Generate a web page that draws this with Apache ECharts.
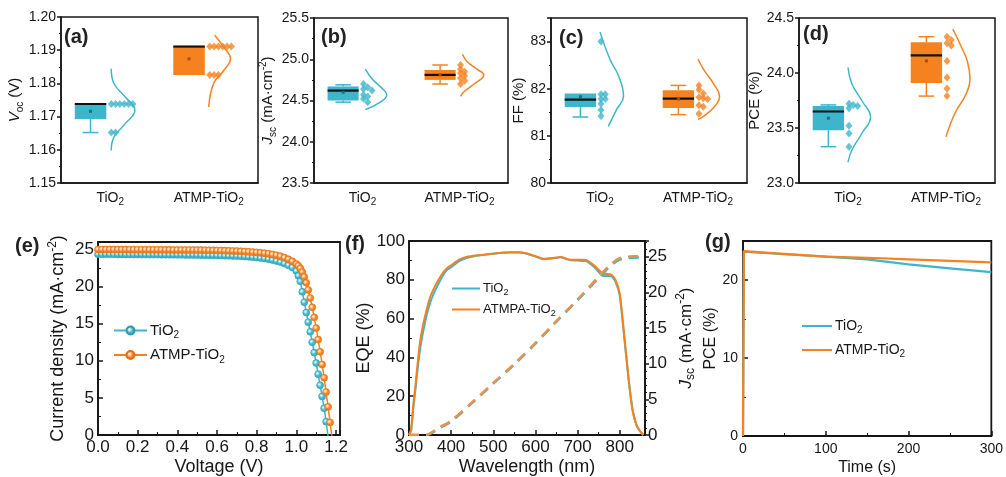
<!DOCTYPE html>
<html>
<head>
<meta charset="utf-8">
<script src="https://cdn.jsdelivr.net/npm/echarts@6/dist/echarts.min.js"></script>
<style>
html, body { margin: 0; padding: 0; background: #fff; }
#main { width: 1006px; height: 477px; }
</style>
</head>
<body>
<div id="main"></div>
<script>
var groups = ['TiO2', 'ATMP-TiO2'];

// box stats per group: [min, Q1, median, Q3, max, mean]
var vocBox = [[1.1652, 1.1693, 1.1738, 1.1738, 1.1738, 1.1716], [1.1825, 1.1825, 1.1911, 1.1911, 1.1911, 1.1874]];
var jscBox = [[24.48, 24.50, 24.62, 24.67, 24.69, 24.60], [24.70, 24.75, 24.81, 24.87, 24.93, 24.81]];
var ffBox = [[81.40, 81.61, 81.77, 81.90, 81.90, 81.83], [81.45, 81.59, 81.79, 81.97, 82.07, 81.78]];
var pceBox = [[23.33, 23.48, 23.65, 23.70, 23.71, 23.59], [23.79, 23.91, 24.16, 24.28, 24.33, 24.11]];

// single devices
var vocPts = [[1.1738, 1.1738, 1.1738, 1.1738, 1.1738, 1.1738, 1.1652, 1.1652],
              [1.1911, 1.1911, 1.1911, 1.1911, 1.1911, 1.1911, 1.1825, 1.1825, 1.1825]];
var jscPts = [[24.70, 24.66, 24.64, 24.62, 24.57, 24.55, 24.52, 24.48],
              [24.93, 24.88, 24.85, 24.83, 24.80, 24.77, 24.74, 24.70]];
var ffPts = [[83.00, 81.88, 81.88, 81.78, 81.78, 81.68, 81.55, 81.42],
             [82.07, 81.98, 81.90, 81.82, 81.80, 81.78, 81.65, 81.62, 81.47]];
var pcePts = [[23.72, 23.71, 23.70, 23.68, 23.52, 23.45, 23.33],
              [24.33, 24.30, 24.27, 24.25, 24.11, 23.96, 23.86, 23.79]];

// distribution curves: [offset from category centre, value]
var vocCurve = [[[0.01, 1.1844], [0.035, 1.1801], [0.15, 1.1760], [0.25, 1.1719], [0.15, 1.1678], [0.035, 1.1637], [0.01, 1.1598]],
                [[0.06, 1.1945], [0.15, 1.1910], [0.22, 1.1874], [0.15, 1.1838], [0.05, 1.1800], [0.0, 1.1729]]];
var jscCurve = [[[0.03, 24.88], [0.1, 24.76], [0.2, 24.65], [0.25, 24.57], [0.17, 24.47], [0.03, 24.39]],
                [[0.03, 25.06], [0.08, 24.97], [0.18, 24.88], [0.25, 24.81], [0.15, 24.70], [0.04, 24.60], [0.01, 24.55]]];
var ffCurve = [[[0.0, 83.2], [0.1, 82.63], [0.19, 82.27], [0.24, 81.84], [0.17, 81.56], [0.085, 81.2]],
               [[0.0, 82.63], [0.06, 82.4], [0.16, 82.1], [0.22, 81.84], [0.16, 81.6], [0.06, 81.42], [0.0, 81.35]]];
var pceCurve = [[[0.0, 24.05], [0.04, 23.9], [0.14, 23.75], [0.23, 23.6], [0.14, 23.45], [0.04, 23.3], [0.0, 23.19]],
                [[0.07, 24.4], [0.15, 24.25], [0.22, 24.1], [0.245, 23.94], [0.2, 23.8], [0.1, 23.65], [0.03, 23.5], [0.0, 23.42]]];

// (e) J-V
var jvVolt = [0.00, 0.02, 0.04, 0.06, 0.08, 0.10, 0.12, 0.14, 0.16, 0.18, 0.20, 0.22, 0.24, 0.26, 0.28, 0.30, 0.32, 0.34, 0.36, 0.38,
              0.40, 0.42, 0.44, 0.46, 0.48, 0.50, 0.52, 0.54, 0.56, 0.58, 0.60, 0.62, 0.64, 0.66, 0.68, 0.70, 0.72, 0.74, 0.76, 0.78,
              0.80, 0.82, 0.84, 0.86, 0.88, 0.90, 0.92, 0.94, 0.96, 0.98, 1.00, 1.01, 1.02, 1.03, 1.04, 1.05, 1.06, 1.07, 1.08, 1.09,
              1.10, 1.11, 1.12, 1.13, 1.14, 1.15, 1.16, 1.17, 1.18];
var jvTiO2 = [24.35, 24.35, 24.34, 24.34, 24.34, 24.33, 24.33, 24.33, 24.32, 24.32, 24.32, 24.31, 24.31, 24.30, 24.30, 24.30, 24.29, 24.29, 24.28, 24.28,
              24.27, 24.27, 24.26, 24.25, 24.25, 24.24, 24.23, 24.22, 24.21, 24.20, 24.19, 24.17, 24.16, 24.14, 24.12, 24.10, 24.07, 24.04, 24.00, 23.96,
              23.91, 23.85, 23.78, 23.69, 23.58, 23.45, 23.29, 23.10, 22.86, 22.57, 22.10, 21.45, 20.70, 19.30, 17.90, 16.50, 15.20, 13.90, 12.50, 11.10,
              9.70, 8.20, 6.70, 5.20, 3.60, 1.80, -0.20];
var jvATMP = [25.00, 25.00, 24.99, 24.99, 24.99, 24.98, 24.98, 24.98, 24.97, 24.97, 24.97, 24.96, 24.96, 24.96, 24.95, 24.95, 24.95, 24.94, 24.94, 24.93,
              24.93, 24.93, 24.92, 24.92, 24.92, 24.91, 24.91, 24.90, 24.89, 24.88, 24.87, 24.86, 24.84, 24.82, 24.80, 24.78, 24.75, 24.72, 24.68, 24.65,
              24.60, 24.55, 24.49, 24.42, 24.33, 24.22, 24.08, 23.90, 23.68, 23.40, 23.05, 22.80, 22.45, 21.95, 21.30, 20.50, 19.55, 18.45, 17.20, 15.85,
              14.40, 12.85, 11.20, 9.50, 7.70, 5.80, 3.80, 1.70, -0.40];

// (f) EQE and integrated Jsc
var eqeWl = [300, 305, 310, 315, 320, 325, 330, 340, 350, 360, 370, 380, 390, 400, 420, 440, 460, 480, 500, 520, 540, 560, 580,
             600, 620, 640, 660, 680, 700, 720, 740, 760, 780, 790, 800, 810, 820, 830, 840, 850, 856];
var eqeTiO2 = [0, 2, 13, 23, 33, 42, 49, 60, 68, 73.5, 78, 82, 85, 86.5, 89.8, 91.5, 92.4, 92.9, 93.4, 93.9, 94.1, 94.1, 93.4,
               92.0, 90.6, 91.0, 91.6, 90.2, 89.9, 89.6, 86.5, 82.0, 81.8, 79, 72, 52, 31, 14, 5, 1.5, 0];
var eqeATMP = [0, 3, 15, 25, 36, 46, 53, 63, 71, 76, 80, 83.5, 86, 87.5, 90.5, 92, 92.6, 93, 93.5, 94, 94.2, 94.2, 93.6,
               92.2, 90.8, 91.2, 91.8, 90.5, 90.3, 90.2, 87.3, 83.3, 82.6, 80, 73, 53, 31, 13, 5, 1.5, 0];
var intWl = [300, 340, 370, 400, 450, 500, 550, 600, 650, 700, 750, 780, 800, 820, 850];
var intTiO2 = [0, 0, 0.9, 1.9, 4.5, 7.2, 9.9, 12.8, 15.9, 18.9, 22.0, 23.8, 24.6, 24.8, 24.9];
var intATMP = [0, 0, 1.0, 2.0, 4.6, 7.3, 10.0, 12.9, 16.0, 19.0, 22.2, 24.0, 24.8, 25.0, 25.1];

// (g) stabilised PCE
var timeS = [0, 1, 50, 100, 150, 200, 250, 300];
var mppTiO2 = [0, 23.65, 23.3, 23.0, 22.65, 22.0, 21.5, 21.0];
var mppATMP = [0, 23.7, 23.35, 23.0, 22.85, 22.65, 22.45, 22.25];

var FONT = 'Liberation Sans';
var INK = '#161616';
var BLUE = '#3DB5CA', ORANGE = '#F5821F';
var colors = [BLUE, ORANGE];
var meanColors = ['#1C6F80', '#A64F06'];

function rich(size) {
  var lh = Math.round(size * 1.3), ss = Math.round(size * 0.68);
  return {
    n: { fontSize: size, fontFamily: FONT, color: INK, lineHeight: lh },
    i: { fontSize: size, fontFamily: FONT, color: INK, fontStyle: 'italic', lineHeight: lh },
    s: { fontSize: ss, fontFamily: FONT, color: INK, verticalAlign: 'bottom', lineHeight: ss },
    p: { fontSize: ss, fontFamily: FONT, color: INK, verticalAlign: 'top', lineHeight: ss }
  };
}
function subName(name) {
  var b = name.split('|')[0];
  return '{n|' + b.slice(0, -1) + '}{s|2}';
}
function zip(a, b) {
  var out = [];
  for (var k = 0; k < b.length; k++) out.push([a[k], b[k]]);
  return out;
}
// simple beeswarm: points that would overlap vertically get the next slot to the right
function swarm(vals, center, thr) {
  var placed = [], out = [];
  vals.forEach(function (v) {
    var k = 0;
    while (placed.some(function (p) { return p.k === k && Math.abs(p.v - v) < thr; })) k++;
    placed.push({ v: v, k: k });
    out.push([center + 0.01 + k * 0.044, v]);
  });
  return out;
}
function boxRender(color, meanColor) {
  return function (params, api) {
    var c = api.value(0);
    var lo = api.value(1), q1 = api.value(2), med = api.value(3), q3 = api.value(4), hi = api.value(5), mean = api.value(6);
    var xl = c - 0.36, xr = c - 0.04, xm = c - 0.2, cl = c - 0.28, cr = c - 0.12;
    function seg(a, b, col, w) {
      var A = api.coord(a), B = api.coord(b);
      return { type: 'line', shape: { x1: A[0], y1: A[1], x2: B[0], y2: B[1] }, style: { stroke: col, lineWidth: w } };
    }
    var ch = [];
    if (hi > q3) { ch.push(seg([xm, q3], [xm, hi], color, 1.5)); ch.push(seg([cl, hi], [cr, hi], color, 1.5)); }
    if (lo < q1) { ch.push(seg([xm, q1], [xm, lo], color, 1.5)); ch.push(seg([cl, lo], [cr, lo], color, 1.5)); }
    var p1 = api.coord([xl, q3]), p2 = api.coord([xr, q1]);
    ch.push({ type: 'rect', shape: { x: p1[0], y: p1[1], width: p2[0] - p1[0], height: Math.max(p2[1] - p1[1], 1) }, style: { fill: color } });
    ch.push(seg([xl, med], [xr, med], '#111', 2.2));
    var m = api.coord([xm, mean]);
    ch.push({ type: 'rect', shape: { x: m[0] - 1.5, y: m[1] - 1.5, width: 3, height: 3 }, style: { fill: meanColor } });
    return { type: 'group', children: ch };
  };
}

var topPanels = [
  { left: 61, top: 17, width: 197, height: 166, min: 1.15, max: 1.20, interval: 0.01, dec: 2, full: true,
    name: '{i|V}{s|oc}{n| (V)}', gap: 36, box: vocBox, pts: vocPts, curve: vocCurve },
  { left: 314, top: 18, width: 194, height: 165, min: 23.5, max: 25.5, interval: 0.5, dec: 1, full: true,
    name: '{i|J}{s|sc}{n| (mA·cm}{p|-2}{n|)}', gap: 32, box: jscBox, pts: jscPts, curve: jscCurve },
  { left: 551, top: 18, width: 196, height: 165, min: 80, max: 83.5, interval: 1, dec: 0, full: false,
    name: '{n|FF (%)}', gap: 21, box: ffBox, pts: ffPts, curve: ffCurve },
  { left: 799, top: 18, width: 196, height: 165, min: 23.0, max: 24.5, interval: 0.5, dec: 1, full: true,
    name: '{n|PCE (%)}', gap: 29, box: pceBox, pts: pcePts, curve: pceCurve }
];

var grids = [], xAxes = [], yAxes = [], series = [];
var axisLine = { lineStyle: { color: INK, width: 1.5 } };

topPanels.forEach(function (p, i) {
  grids.push({ left: p.left, top: p.top, width: p.width, height: p.height, show: true, borderColor: INK, borderWidth: 1.5 });
  xAxes.push({ gridIndex: i, type: 'category', data: groups, boundaryGap: true,
    axisLine: axisLine, axisTick: { alignWithLabel: true, length: 4, lineStyle: { color: INK, width: 1.5 } },
    axisLabel: { interval: 0, formatter: subName, rich: rich(14), margin: 6 } });
  xAxes.push({ gridIndex: i, type: 'value', min: 0, max: 2, show: false });
  (function (dec) {
    yAxes.push({ gridIndex: i, type: 'value', min: p.min, max: p.max, interval: p.interval,
      splitLine: { show: false }, axisLine: { show: true, lineStyle: { color: INK, width: 1.5 } },
      axisTick: { show: true, length: 4, lineStyle: { color: INK, width: 1.5 } },
      minorTick: { show: true, splitNumber: 2, length: 2, lineStyle: { color: INK } },
      axisLabel: { fontFamily: FONT, fontSize: 14, color: INK, margin: 5, showMaxLabel: p.full,
        formatter: function (v) { return v.toFixed(dec); } },
      name: p.name, nameLocation: 'middle', nameGap: p.gap, nameRotate: 90,
      nameTextStyle: { rich: rich(15) } });
  })(p.dec);
  var thr = 4 * (p.max - p.min) / p.height;
  for (var g = 0; g < 2; g++) {
    var ctr = g + 0.5;
    series.push({ type: 'line', xAxisIndex: 2 * i + 1, yAxisIndex: i, smooth: 0.45, symbol: 'none',
      lineStyle: { color: colors[g], width: 1.5 }, z: 2, silent: true,
      data: p.curve[g].map(function (d) { return [ctr + d[0], d[1]]; }) });
    series.push({ type: 'custom', xAxisIndex: 2 * i + 1, yAxisIndex: i, z: 3, silent: true,
      renderItem: boxRender(colors[g], meanColors[g]),
      data: [[ctr].concat(p.box[g])] });
    series.push({ type: 'scatter', xAxisIndex: 2 * i + 1, yAxisIndex: i, symbol: 'diamond', symbolSize: [7, 8], z: 4, silent: true,
      itemStyle: { color: colors[g] }, data: swarm(p.pts[g], ctr, thr) });
  }
});

function inTick() { return { show: true, inside: true, length: 5, lineStyle: { color: INK, width: 1.5 } }; }
function inMinor() { return { show: true, splitNumber: 2, length: 3, lineStyle: { color: INK, width: 1 } }; }

// (e)
grids.push({ left: 98, top: 242, width: 242, height: 194, show: true, borderColor: INK, borderWidth: 1.8 });
xAxes.push({ gridIndex: 4, type: 'value', min: 0, max: 1.22, interval: 0.2, splitLine: { show: false },
  axisLine: axisLine, axisTick: inTick(), minorTick: inMinor(),
  axisLabel: { fontFamily: FONT, fontSize: 17, color: INK, margin: 4, showMaxLabel: false, formatter: function (v) { return v.toFixed(1); } },
  name: 'Voltage (V)', nameLocation: 'middle', nameGap: 23, nameTextStyle: { fontFamily: FONT, fontSize: 18, color: INK } });
yAxes.push({ gridIndex: 4, type: 'value', min: 0, max: 26, interval: 5, splitLine: { show: false },
  axisLine: axisLine, axisTick: inTick(), minorTick: inMinor(),
  axisLabel: { fontFamily: FONT, fontSize: 17, color: INK, margin: 4, showMaxLabel: false },
  name: '{n|Current density (mA·cm}{p|-2}{n|)}', nameLocation: 'middle', nameGap: 28, nameRotate: 90,
  nameTextStyle: { rich: rich(18) } });

// (f)
grids.push({ left: 409, top: 241, width: 236, height: 195, show: true, borderColor: INK, borderWidth: 1.8 });
xAxes.push({ gridIndex: 5, type: 'value', min: 300, max: 860, interval: 100, splitLine: { show: false },
  axisLine: axisLine, axisTick: inTick(), minorTick: inMinor(),
  axisLabel: { fontFamily: FONT, fontSize: 17, color: INK, margin: 4, showMaxLabel: false },
  name: 'Wavelength (nm)', nameLocation: 'middle', nameGap: 23, nameTextStyle: { fontFamily: FONT, fontSize: 18, color: INK } });
yAxes.push({ gridIndex: 5, type: 'value', min: 0, max: 100, interval: 20, splitLine: { show: false },
  axisLine: axisLine, axisTick: inTick(), minorTick: inMinor(),
  axisLabel: { fontFamily: FONT, fontSize: 17, color: INK, margin: 4 },
  name: 'EQE (%)', nameLocation: 'middle', nameGap: 33, nameRotate: 90,
  nameTextStyle: { fontFamily: FONT, fontSize: 18, color: INK } });
yAxes.push({ gridIndex: 5, type: 'value', position: 'right', min: 0, max: 27.2, interval: 5, splitLine: { show: false },
  axisLine: axisLine, axisTick: { show: true, inside: false, length: 4, lineStyle: { color: INK, width: 1.5 } },
  minorTick: { show: true, splitNumber: 5, length: 2, lineStyle: { color: INK } },
  axisLabel: { fontFamily: FONT, fontSize: 17, color: INK, margin: 3, showMaxLabel: false },
  name: '{i|J}{s|sc}{n| (mA·cm}{p|-2}{n|)}', nameLocation: 'middle', nameGap: 30, nameRotate: 90,
  nameTextStyle: { rich: rich(17) } });

// (g)
grids.push({ left: 743, top: 241, width: 252, height: 195, show: true, borderColor: INK, borderWidth: 1.8 });
xAxes.push({ gridIndex: 6, type: 'value', min: 0, max: 300, interval: 100, splitLine: { show: false },
  axisLine: axisLine, axisTick: inTick(), minorTick: inMinor(),
  axisLabel: { fontFamily: FONT, fontSize: 14, color: INK, margin: 6 },
  name: 'Time (s)', nameLocation: 'middle', nameGap: 24, nameTextStyle: { fontFamily: FONT, fontSize: 16, color: INK } });
yAxes.push({ gridIndex: 6, type: 'value', min: 0, max: 25, interval: 10, splitLine: { show: false },
  axisLine: axisLine, axisTick: inTick(), minorTick: inMinor(),
  axisLabel: { fontFamily: FONT, fontSize: 14, color: INK, margin: 5, showMaxLabel: false },
  name: 'PCE (%)', nameLocation: 'middle', nameGap: 24, nameRotate: 90,
  nameTextStyle: { fontFamily: FONT, fontSize: 16, color: INK } });

function ball(c) {
  return new echarts.graphic.RadialGradient(0.4, 0.4, 0.6, [{ offset: 0, color: '#ffffff' }, { offset: 0.55, color: c }, { offset: 1, color: c }]);
}
series.push({ name: 'TiO2|e', type: 'line', xAxisIndex: 8, yAxisIndex: 4, symbol: 'circle', symbolSize: 7,
  itemStyle: { color: ball(BLUE), borderColor: '#2A9DB2', borderWidth: 0.6 }, lineStyle: { color: BLUE, width: 1.5 },
  data: zip(jvVolt, jvTiO2) });
series.push({ name: 'ATMP-TiO2|e', type: 'line', xAxisIndex: 8, yAxisIndex: 4, symbol: 'circle', symbolSize: 7,
  itemStyle: { color: ball(ORANGE), borderColor: '#E06E10', borderWidth: 0.6 }, lineStyle: { color: ORANGE, width: 1.5 },
  data: zip(jvVolt, jvATMP) });

series.push({ name: 'TiO2|f', type: 'line', xAxisIndex: 9, yAxisIndex: 5, symbol: 'none', smooth: 0.2,
  lineStyle: { color: BLUE, width: 2 }, itemStyle: { color: BLUE }, data: zip(eqeWl, eqeTiO2) });
series.push({ name: 'ATMPA-TiO2|f', type: 'line', xAxisIndex: 9, yAxisIndex: 5, symbol: 'none', smooth: 0.2,
  lineStyle: { color: ORANGE, width: 2 }, itemStyle: { color: ORANGE }, data: zip(eqeWl, eqeATMP) });
series.push({ name: 'intB', type: 'line', xAxisIndex: 9, yAxisIndex: 6, symbol: 'none', smooth: 0.3,
  lineStyle: { color: BLUE, width: 2.5, type: [10, 7] }, data: zip(intWl, intTiO2) });
series.push({ name: 'intO', type: 'line', xAxisIndex: 9, yAxisIndex: 6, symbol: 'none', smooth: 0.3,
  lineStyle: { color: '#E8924A', width: 2.5, type: [10, 7] }, data: zip(intWl, intATMP) });

series.push({ name: 'TiO2|g', type: 'line', xAxisIndex: 10, yAxisIndex: 7, symbol: 'none',
  lineStyle: { color: BLUE, width: 2.2 }, itemStyle: { color: BLUE }, data: zip(timeS, mppTiO2) });
series.push({ name: 'ATMP-TiO2|g', type: 'line', xAxisIndex: 10, yAxisIndex: 7, symbol: 'none',
  lineStyle: { color: ORANGE, width: 2.2 }, itemStyle: { color: ORANGE }, data: zip(timeS, mppATMP) });

function legend(names, left, top, size, gap, plain, w) {
  var l = { data: names, left: left, top: top, orient: 'vertical', itemGap: gap, itemWidth: 33, itemHeight: 10,
    selectedMode: false, formatter: subName, textStyle: { rich: rich(size), padding: [0, 0, 0, -2] } };
  if (plain) { l.icon = 'rect'; l.itemHeight = 2; l.itemWidth = w; }
  return l;
}

var letters = [['(a)', 64, 27], ['(b)', 321, 27], ['(c)', 559, 28], ['(d)', 803, 24], ['(e)', 15, 236], ['(f)', 345, 234], ['(g)', 705, 232]];

var option = {
  animation: false,
  backgroundColor: '#fff',
  textStyle: { fontFamily: FONT },
  grid: grids,
  xAxis: xAxes,
  yAxis: yAxes,
  legend: [
    legend(['TiO2|e', 'ATMP-TiO2|e'], 108, 318, 15, 7, false, 33),
    legend(['TiO2|f', 'ATMPA-TiO2|f'], 447, 277, 13, 6, true, 28),
    legend(['TiO2|g', 'ATMP-TiO2|g'], 797, 314, 14, 8, true, 30)
  ],
  graphic: letters.map(function (l) {
    return { type: 'text', left: l[1], top: l[2], style: { text: l[0], font: 'bold 20px "Liberation Sans"', fill: '#222' } };
  }),
  series: series
};

var chart = echarts.init(document.getElementById('main'));
chart.setOption(option);
</script>
</body>
</html>
